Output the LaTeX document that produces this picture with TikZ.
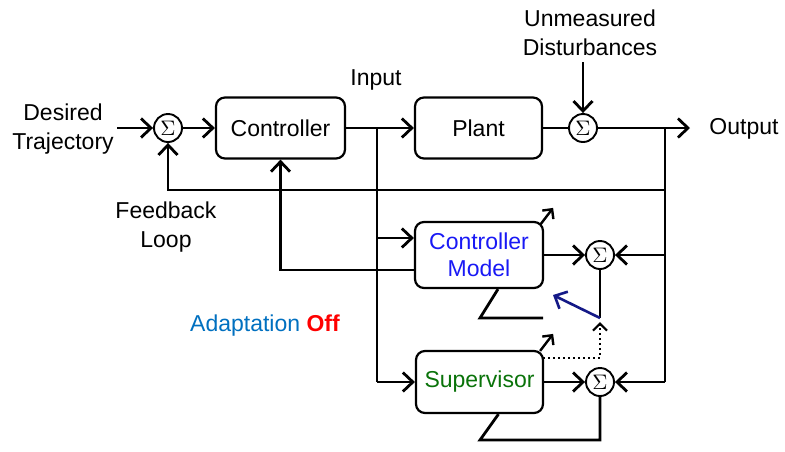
\documentclass[tikz,border=0pt]{standalone}
\usepackage{fontspec}
\setmainfont{Liberation Sans}
\usetikzlibrary{arrows.meta}
\definecolor{cmblue}{RGB}{25,25,245}
\definecolor{supgreen}{RGB}{10,115,10}
\definecolor{adblue}{RGB}{0,112,192}
\definecolor{offred}{RGB}{255,0,0}
\definecolor{navyarr}{RGB}{20,25,135}
\newcommand{\sumsym}{\scalebox{2.1}{$\Sigma$}}
\begin{document}
\begin{tikzpicture}[x=1pt,y=-1pt, line width=2.8pt,
  box/.style={draw, rounded corners=9pt, line width=2.2pt, inner sep=0pt, align=center,
    font=\fontsize{23}{27}\selectfont},
  sumnode/.style={circle, draw, line width=1.9pt, minimum size=28pt, inner sep=0pt},
  arr/.style={-{Straight Barb[length=10pt,width=19pt]}},
  smallarr/.style={-{Straight Barb[length=7pt,width=14pt]}},
  lbl/.style={align=center, font=\fontsize{23}{29}\selectfont, inner sep=0pt}
]
\useasboundingbox[fill=white] (0,0) rectangle (785,451);

% blocks
\node[box, minimum width=129pt, minimum height=61pt] (ctrl) at (280.5,128) {Controller};
\node[box, minimum width=127pt, minimum height=61pt] (plant) at (478.5,128) {Plant};
\node[box, minimum width=128pt, minimum height=66pt, text=cmblue] (cm) at (479,255) {Controller\\Model};
\node[box, minimum width=127pt, minimum height=62pt, text=supgreen] (sup) at (479.5,382) {Supervisor};

% summing junctions
\node[sumnode] (s1) at (168,128) {\sumsym};
\node[sumnode] (s2) at (583,128) {\sumsym};
\node[sumnode] (s3) at (600,255) {\sumsym};
\node[sumnode] (s4) at (600,382) {\sumsym};

% labels
\node[lbl] (des) at (63,129) {Desired\\Trajectory};
\node[lbl] (unm) at (590,33) {Unmeasured\\Disturbances};
\node[lbl] (inp) at (376,80) {Input};
\node[lbl] (out) at (744,129) {Output};
\node[lbl] (fb) at (166,227) {Feedback\\Loop};
\node[lbl] (adp) at (265,326) {\textcolor{adblue}{Adaptation} \textcolor{offred}{\textbf{Off}}};

% coordinates
\coordinate (desend) at (117,128);
\coordinate (unmend) at (583,62);
\coordinate (outend) at (690,128);
\coordinate (jL) at (377,128);
\coordinate (jLb) at (377,382);
\coordinate (jR) at (665,128);
\coordinate (jRb) at (665,382);
\coordinate (fbR) at (665,190);
\coordinate (cmin) at (377,238);
\coordinate (cmR) at (665,255);
\coordinate (cmfb) at (415,270);
\coordinate (s3low) at (600,318);
\coordinate (navyend) at (553,295);
\coordinate (cmz1) at (480,318);
\coordinate (cmz2) at (543,318);
\coordinate (supz) at (480,440);
\coordinate (dotstart) at (543,358);
\coordinate (dotend) at (600,322);

% main loop
\draw[arr] (desend) -- (s1.west);
\draw[arr] (s1.east) -- (ctrl.west);
\draw[arr] (ctrl.east) -- (plant.west);
\draw (plant.east) -- (s2.west);
\draw[arr] (unmend) -- (s2.north);
\draw[arr] (s2.east) -- (outend);
\draw (jR) -- (jRb);
\draw (jL) -- (jLb);
\draw[arr] (fbR) -| (s1.south);

% controller model
\draw[arr] (cmin) -- (cmin -| cm.west);
\draw[arr] (cmfb) -| (ctrl.south);
\draw[arr] (cm.east |- s3) -- (s3.west);
\draw[arr] (cmR) -- (s3.east);
\draw (s3.south) -- (s3low);
\draw[arr, draw=navyarr, line width=2.6pt] (s3low) -- (navyend);
\draw ([xshift=19pt]cm.south) -- (cmz1) -- (cmz2);
\draw[smallarr, line width=2.4pt] ([shift={(-4,4)}]cm.north east) -- ++(13,-17);

% supervisor
\draw[arr] (jLb) -- (sup.west);
\draw[arr] (sup.east) -- (s4.west);
\draw[arr] (jRb) -- (s4.east);
\draw (s4.south) |- (supz) -- ([xshift=19pt]sup.south);
\draw[smallarr, line width=2.4pt] ([shift={(-4,1)}]sup.north east) -- ++(13,-17);
\draw[smallarr, line width=2.2pt, dash pattern=on 2pt off 3pt] (dotstart) -| (dotend);
\end{tikzpicture}
\end{document}
